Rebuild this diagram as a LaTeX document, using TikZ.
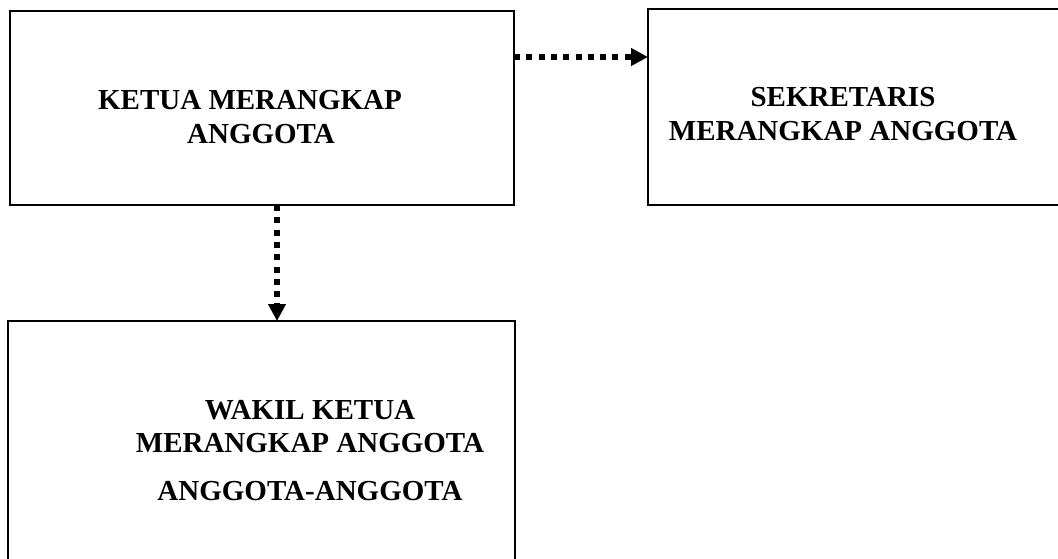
\documentclass[tikz,border=0pt]{standalone}
\usepackage{fontspec}
\setmainfont{Liberation Serif}
\usetikzlibrary{arrows.meta}

\begin{document}
\begin{tikzpicture}[
  x=1pt,
  y=-1pt,
  line join=miter,
  orgbox/.style={draw=black,line width=2pt,inner sep=0pt,outer sep=0pt},
  boxtext/.style={font=\bfseries\fontsize{29}{33.3}\selectfont,align=center,anchor=base,inner sep=0pt},
  dotarrow/.style={draw=black,line width=6pt,dash pattern=on 6pt off 6.3pt,
    -{Triangle[length=17pt,width=17pt]}}
]
  \fill[white] (0,0) rectangle (1058,558);
  \useasboundingbox (0,0) rectangle (1058,558);

  % The three boxes; the second and third run past the page edge.
  \node[orgbox,minimum width=504pt,minimum height=194pt] (ketua) at (262,108) {};
  \node[orgbox,minimum width=414pt,minimum height=196pt] (sekretaris) at (855,107) {};
  \node[orgbox,minimum width=507pt,minimum height=241pt] (wakil) at (261.5,441.5) {};

  % Texts, placed by the baseline of their last line.
  \node[boxtext] (ketuatext) at (261,143) {KETUA MERANGKAP\kern22pt\\ANGGOTA};
  \node[boxtext] (sekretaristext) at (843,140) {SEKRETARIS\\MERANGKAP ANGGOTA};
  \node[boxtext] (wakiltext) at (310,500) {WAKIL KETUA\\MERANGKAP ANGGOTA\\[14pt]ANGGOTA-ANGGOTA};

  % Dotted connectors.
  \draw[dotarrow] ([yshift=51pt]ketua.east) -- ([yshift=51pt]ketua.east -| sekretaris.west);
  \draw[dotarrow] ([xshift=15pt]ketua.south) -- ([xshift=15pt]ketua.south |- wakil.north);
\end{tikzpicture}
\end{document}
